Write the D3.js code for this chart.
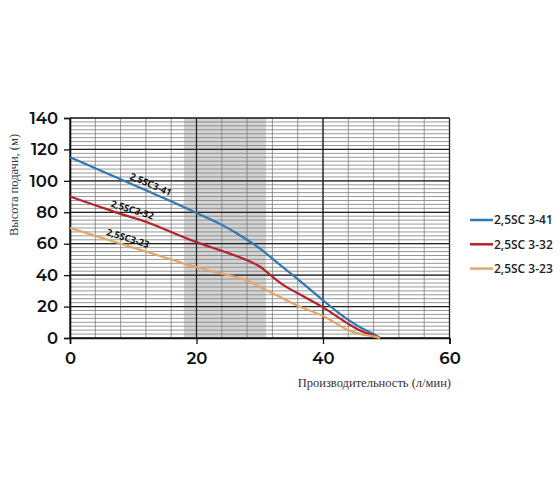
<!DOCTYPE html>
<html lang="ru">
<head>
<meta charset="utf-8">
<title>Напорные характеристики 2,5SC</title>
<script src="https://cdnjs.cloudflare.com/ajax/libs/d3/7.8.5/d3.min.js"></script>
<style>
body { margin: 0; background: #fff; }
.tick-label { font-family: "Montserrat", "Open Sans", sans-serif; font-size: 16.5px; font-weight: 600; fill: #111; }
.axis-title { font-family: "Liberation Serif", "DejaVu Serif", serif; font-size: 12.5px; fill: #333; }
.curve-label { font-family: "Open Sans", sans-serif; font-size: 9.5px; font-weight: 700; fill: #111; }
.legend-text { font-family: "Open Sans", sans-serif; font-size: 12px; font-weight: 600; fill: #222; }
</style>
</head>
<body>
<div id="chart"></div>
<script>

const w = 560;
const h = 504;

// Q (l/min) vs H (m)
const flow41 = [0, 4, 8, 12, 16, 20, 24, 26, 28, 30, 32, 34, 36, 40, 42, 44, 46, 48, 49];
const head41 = [115, 108, 101, 94, 87, 79.5, 72, 67.5, 62.5, 57, 50.5, 44, 37.5, 24, 17.5, 11.5, 6.5, 2.5, 0];

const flow32 = [0, 4, 8, 12, 16, 20, 24, 28, 30, 32, 34, 36, 40, 44, 46, 48, 49];
const head32 = [90, 84.5, 79, 74, 67.5, 61, 55.5, 49.5, 45.5, 39, 33, 28.5, 19.5, 9, 4.5, 1.5, 0];

const flow23 = [0, 4, 8, 12, 16, 20, 24, 28, 31, 34, 36, 40, 44, 46, 48, 49];
const head23 = [70, 65, 60, 55, 50, 45, 41, 36.5, 30.5, 24.5, 20.5, 14, 5, 2.5, 1, 0];

const seriesNames = ["2,5SC 3-41", "2,5SC 3-32", "2,5SC 3-23"];
const curveLabels = ["2,5SC3-41", "2,5SC3-32", "2,5SC3-23"];
const seriesColors = ["#2f78b4", "#b3232c", "#e2a66b"];

const xTicks = [0, 20, 40, 60];
const yTicks = [0, 20, 40, 60, 80, 100, 120, 140];
const shadedRange = [18, 31];

const series = [
  { name: seriesNames[0], label: curveLabels[0], color: seriesColors[0], values: flow41.map((q, i) => ({ q: q, h: head41[i] })) },
  { name: seriesNames[1], label: curveLabels[1], color: seriesColors[1], values: flow32.map((q, i) => ({ q: q, h: head32[i] })) },
  { name: seriesNames[2], label: curveLabels[2], color: seriesColors[2], values: flow23.map((q, i) => ({ q: q, h: head23[i] })) }
];

const x = d3.scaleLinear().domain([0, 60]).range([70, 449.5]);
const y = d3.scaleLinear().domain([0, 140]).range([338, 118]);

const svg = d3.select("#chart")
  .append("svg")
  .attr("width", w)
  .attr("height", h);

// shaded working range
svg.append("rect")
  .attr("x", x(shadedRange[0]))
  .attr("y", y(140))
  .attr("width", x(shadedRange[1]) - x(shadedRange[0]))
  .attr("height", y(0) - y(140))
  .attr("fill", "#d4d4d4");

// minor grid
svg.append("g")
  .selectAll("line")
  .data(d3.range(0, 60.1, 4))
  .join("line")
  .attr("x1", d => x(d)).attr("x2", d => x(d))
  .attr("y1", y(0)).attr("y2", y(140))
  .attr("stroke", "#7e7e7e").attr("stroke-width", 0.8);

svg.append("g")
  .selectAll("line")
  .data(d3.range(0, 140.1, 2.5))
  .join("line")
  .attr("x1", x(0)).attr("x2", x(60))
  .attr("y1", d => y(d)).attr("y2", d => y(d))
  .attr("stroke", "#7e7e7e").attr("stroke-width", 0.8);

// major grid
svg.append("g")
  .selectAll("line")
  .data(xTicks)
  .join("line")
  .attr("x1", d => x(d)).attr("x2", d => x(d))
  .attr("y1", y(0)).attr("y2", y(140))
  .attr("stroke", "#222").attr("stroke-width", 1.3);

svg.append("g")
  .selectAll("line")
  .data(yTicks)
  .join("line")
  .attr("x1", x(0)).attr("x2", x(60))
  .attr("y1", d => y(d)).attr("y2", d => y(d))
  .attr("stroke", "#222").attr("stroke-width", 1.3);

// axes
const xAxis = d3.axisBottom(x).tickValues(xTicks).tickSize(6).tickPadding(8);
const yAxis = d3.axisLeft(y).tickValues(yTicks).tickSize(6).tickPadding(6);

const gx = svg.append("g")
  .attr("transform", "translate(0," + y(0) + ")")
  .call(xAxis);
const gy = svg.append("g")
  .attr("transform", "translate(" + x(0) + ",0)")
  .call(yAxis);

[gx, gy].forEach(g => {
  g.select(".domain").attr("stroke", "#111").attr("stroke-width", 1.6);
  g.selectAll(".tick line").attr("stroke", "#111").attr("stroke-width", 1.3);
  g.selectAll(".tick text").attr("class", "tick-label").attr("font-family", null).attr("font-size", null);
});

// curves
const line = d3.line()
  .x(d => x(d.q))
  .y(d => y(d.h))
  .curve(d3.curveCatmullRom);

svg.append("g")
  .selectAll("path")
  .data(series)
  .join("path")
  .attr("d", d => line(d.values))
  .attr("fill", "none")
  .attr("stroke", d => d.color)
  .attr("stroke-width", 2.2);

// labels along curves
const labelAt = [12.3, 9.5, 8.8];
series.forEach((s, i) => {
  const q = labelAt[i];
  const a = s.values.filter(v => v.q <= q).pop();
  const b = s.values.find(v => v.q > q);
  const hq = a.h + (b.h - a.h) * (q - a.q) / (b.q - a.q);
  const ang = Math.atan2(y(b.h) - y(a.h), x(b.q) - x(a.q)) * 180 / Math.PI;
  svg.append("text")
    .attr("class", "curve-label")
    .attr("text-anchor", "middle")
    .attr("transform", "translate(" + x(q) + "," + y(hq) + ") rotate(" + ang + ")")
    .attr("dy", -4)
    .text(s.label);
});

// legend
const legend = svg.append("g")
  .selectAll("g")
  .data(series)
  .join("g")
  .attr("transform", (d, i) => "translate(470," + (220 + i * 24.3) + ")");

legend.append("line")
  .attr("x1", 0).attr("x2", 23)
  .attr("stroke", d => d.color)
  .attr("stroke-width", 2.5);

legend.append("text")
  .attr("class", "legend-text")
  .attr("x", 24)
  .attr("dy", "0.35em")
  .text(d => d.name);

// titles
svg.append("text")
  .attr("class", "axis-title")
  .attr("transform", "translate(14,185) rotate(-90)")
  .attr("text-anchor", "middle")
  .attr("dy", "0.35em")
  .text("Высота подачи, (м)");

svg.append("text")
  .attr("class", "axis-title")
  .attr("x", 451)
  .attr("y", 387)
  .attr("text-anchor", "end")
  .text("Производительность (л/мин)");

</script>
</body>
</html>
